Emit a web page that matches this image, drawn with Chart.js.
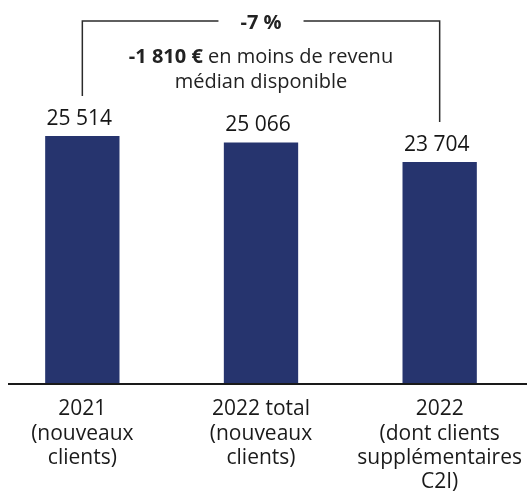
<!DOCTYPE html>
<html>
<head>
<meta charset="utf-8">
<script src="https://cdn.jsdelivr.net/npm/chart.js@4.4.1/dist/chart.umd.min.js"></script>
<style>
  html, body { margin: 0; padding: 0; background: #fff; overflow: hidden; }
  #revenus { position: absolute; left: -7px; top: 0; }
</style>
</head>
<body>
<canvas id="revenus" width="536" height="493"></canvas>
<script>
// revenu médian disponible des nouveaux clients
const categories = [
  ["2021", "(nouveaux", "clients)"],
  ["2022 total", "(nouveaux", "clients)"],
  ["2022", "(dont clients", "supplémentaires", "C2I)"]
];
const revenus = [25514, 25066, 23704];

const FONT = "'Open Sans', 'Noto Sans', sans-serif";
const BLEU = "#26346e";

function fmt(n) {
  const s = String(Math.abs(Math.round(n))).replace(/\B(?=(\d{3})+(?!\d))/g, " ");
  return (n < 0 ? "-" : "") + s;
}

// valeurs au-dessus des barres
const valeurs = {
  id: "valeurs",
  afterDatasetsDraw(chart) {
    const ctx = chart.ctx;
    ctx.save();
    ctx.font = "21px " + FONT;
    ctx.fillStyle = "#161616";
    ctx.textAlign = "center";
    ctx.textBaseline = "alphabetic";
    chart.getDatasetMeta(0).data.forEach((bar, i) => {
      ctx.fillText(fmt(revenus[i]), bar.x - 3, bar.y - 11);
    });
    ctx.restore();
  }
};

// ligne de base + accolade entre la 1re et la dernière barre
const ecart = {
  id: "ecart",
  afterDatasetsDraw(chart) {
    const ctx = chart.ctx;
    const area = chart.chartArea;
    const bars = chart.getDatasetMeta(0).data;
    const a = bars[0], b = bars[bars.length - 1];
    const v0 = revenus[0], v1 = revenus[revenus.length - 1];
    const pct = Math.round((v1 - v0) / v0 * 100) + " %";
    const diff = fmt(v1 - v0) + " €";
    const top = 21;
    const mid = (a.x + b.x) / 2;

    ctx.save();
    // axe
    ctx.strokeStyle = "#1a1a1a";
    ctx.lineWidth = 2;
    ctx.beginPath();
    ctx.moveTo(15, area.bottom + 1);
    ctx.lineTo(chart.width, area.bottom + 1);
    ctx.stroke();

    ctx.font = "bold 20px " + FONT;
    const w = ctx.measureText(pct).width;
    ctx.strokeStyle = "#2b2b2b";
    ctx.lineWidth = 1.5;
    ctx.beginPath();
    ctx.moveTo(a.x, a.y - 40);
    ctx.lineTo(a.x, top);
    ctx.lineTo(mid - w / 2 - 22, top);
    ctx.moveTo(mid + w / 2 + 22, top);
    ctx.lineTo(b.x, top);
    ctx.lineTo(b.x, b.y - 40);
    ctx.stroke();

    ctx.fillStyle = "#222";
    ctx.textBaseline = "middle";
    ctx.textAlign = "center";
    ctx.fillText(pct, mid, top + 2);

    // première ligne : montant en gras + suite en normal
    const rest = " en moins de revenu";
    ctx.font = "bold 20px " + FONT;
    const wb = ctx.measureText(diff).width;
    ctx.font = "20px " + FONT;
    const wr = ctx.measureText(rest).width;
    const x0 = mid - (wb + wr) / 2;
    ctx.textAlign = "left";
    ctx.font = "bold 20px " + FONT;
    ctx.fillText(diff, x0, 57);
    ctx.font = "20px " + FONT;
    ctx.fillText(rest, x0 + wb, 57);
    ctx.textAlign = "center";
    ctx.fillText("médian disponible", mid, 82);
    ctx.restore();
  }
};

new Chart("revenus", {
  type: "bar",
  data: {
    labels: categories,
    datasets: [{
      data: revenus,
      backgroundColor: BLEU,
      categoryPercentage: 1,
      barPercentage: 0.416
    }]
  },
  options: {
    responsive: false,
    animation: false,
    layout: { padding: 0 },
    plugins: {
      legend: { display: false },
      tooltip: { enabled: false }
    },
    scales: {
      x: {
        grid: { display: false, drawTicks: false },
        border: { display: false },
        ticks: {
          color: "#1a1a1a",
          font: { family: FONT, size: 21, lineHeight: 1.16 },
          padding: 14,
          maxRotation: 0,
          autoSkip: false
        },
        afterFit(scale) {
          scale.height = 110;
          scale.paddingLeft = 0;
          scale.paddingRight = 0;
        }
      },
      y: {
        display: false,
        min: 8300,
        max: 35000
      }
    }
  },
  plugins: [valeurs, ecart]
});
</script>
</body>
</html>
